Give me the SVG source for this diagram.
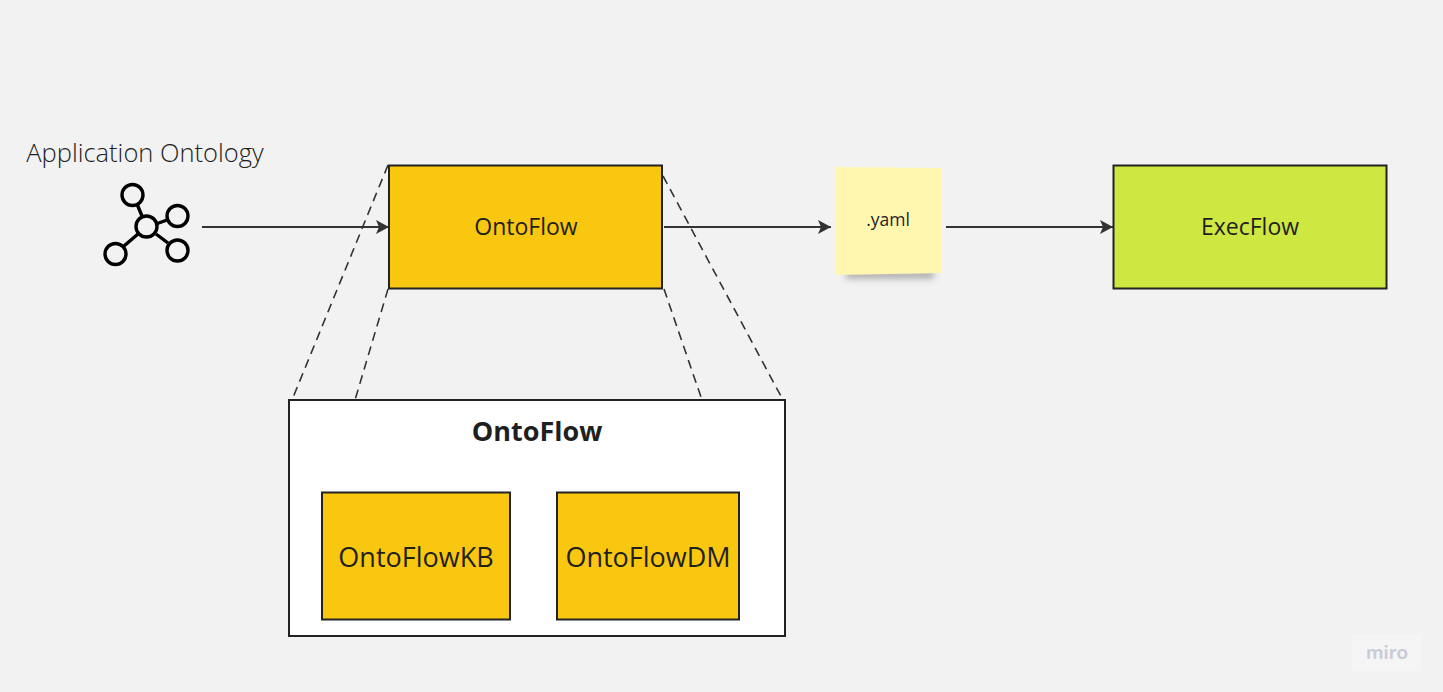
<svg xmlns="http://www.w3.org/2000/svg" width="1443" height="692" viewBox="0 0 1443 692">
<defs>
<marker id="arrow" markerUnits="userSpaceOnUse" markerWidth="18" markerHeight="18" refX="16" refY="9" orient="auto"><path d="M3 2 L16 9 L3 16 L6 9 Z" fill="#333"/></marker>
<linearGradient id="shadow" x1="0" y1="0" x2="0" y2="1"><stop offset="0" stop-color="#555" stop-opacity=".75"/><stop offset="1" stop-color="#555" stop-opacity="0"/></linearGradient>
<filter id="blur" x="-20%" y="-100%" width="140%" height="300%"><feGaussianBlur stdDeviation="3"/></filter>
</defs>
<style>
text{font-family:"Open Sans","Noto Sans","Liberation Sans",sans-serif;fill:#1f1f1f;text-anchor:middle}
.box{stroke:#222;stroke-width:2}
.amber{fill:#fac710}
.flow{fill:none;stroke:#333;stroke-width:2;marker-end:url(#arrow)}
.dash{fill:none;stroke:#333;stroke-width:1.6;stroke-dasharray:9 6}
.ic{fill:none;stroke:#000;stroke-width:3.4}
</style>
<rect width="1443" height="692" fill="#f2f2f2"/>
<g id="connectors">
<path class="flow" d="M202 227H389"/>
<path class="flow" d="M664 227H831"/>
<path class="flow" d="M946 227H1113"/>
<path class="dash" d="M388 165L292 400"/>
<path class="dash" d="M388 289L355 400"/>
<path class="dash" d="M663 176L783 400"/>
<path class="dash" d="M664 289L702 400"/>
</g>
<g id="application-ontology">
<text x="145" y="162" font-size="25.5" style="font-weight:300">Application Ontology</text>
<g class="ic">
<path d="M137 204L142 216M156 224L167 220M156 234L168 243M138 234L124 246"/>
<circle cx="146.500" cy="226.500" r="10.500"/>
<circle cx="132.500" cy="195" r="10.500"/>
<circle cx="177.500" cy="216" r="10.500"/>
<circle cx="177.500" cy="250.500" r="10.500"/>
<circle cx="115.500" cy="254" r="10.500"/>
</g>
</g>
<g id="ontoflow-top">
<rect class="box amber" x="389" y="165.500" width="273" height="123"/>
<text x="526" y="235" font-size="23">OntoFlow</text>
</g>
<g id="yaml-note">
<rect x="846" y="272" width="88" height="9" fill="url(#shadow)" filter="url(#blur)"/>
<path d="M835 167L941 168V273L836 275Z" fill="#fff6b0"/>
<text x="888" y="226" font-size="17.500" fill="#333">.yaml</text>
</g>
<g id="execflow">
<rect class="box" x="1113.500" y="165.500" width="273" height="123" fill="#cee741"/>
<text x="1250" y="235" font-size="23">ExecFlow</text>
</g>
<g id="ontoflow-detail">
<rect class="box" x="289" y="400" width="496" height="236" fill="#fff"/>
<text x="537" y="441" font-size="27" font-weight="700">OntoFlow</text>
</g>
<g id="ontoflowkb">
<rect class="box amber" x="322" y="492.500" width="188" height="127"/>
<text x="416" y="567" font-size="27">OntoFlowKB</text>
</g>
<g id="ontoflowdm">
<rect class="box amber" x="557" y="492.500" width="182" height="127"/>
<text x="648" y="567" font-size="27">OntoFlowDM</text>
</g>
<g id="watermark">
<rect x="1352" y="634" width="69" height="37" fill="#f5f5f5"/>
<text x="1387" y="659" font-size="20" font-weight="700" style="fill:#c9cbd6;font-family:'Nunito','Noto Sans',sans-serif">miro</text>
</g>
</svg>
